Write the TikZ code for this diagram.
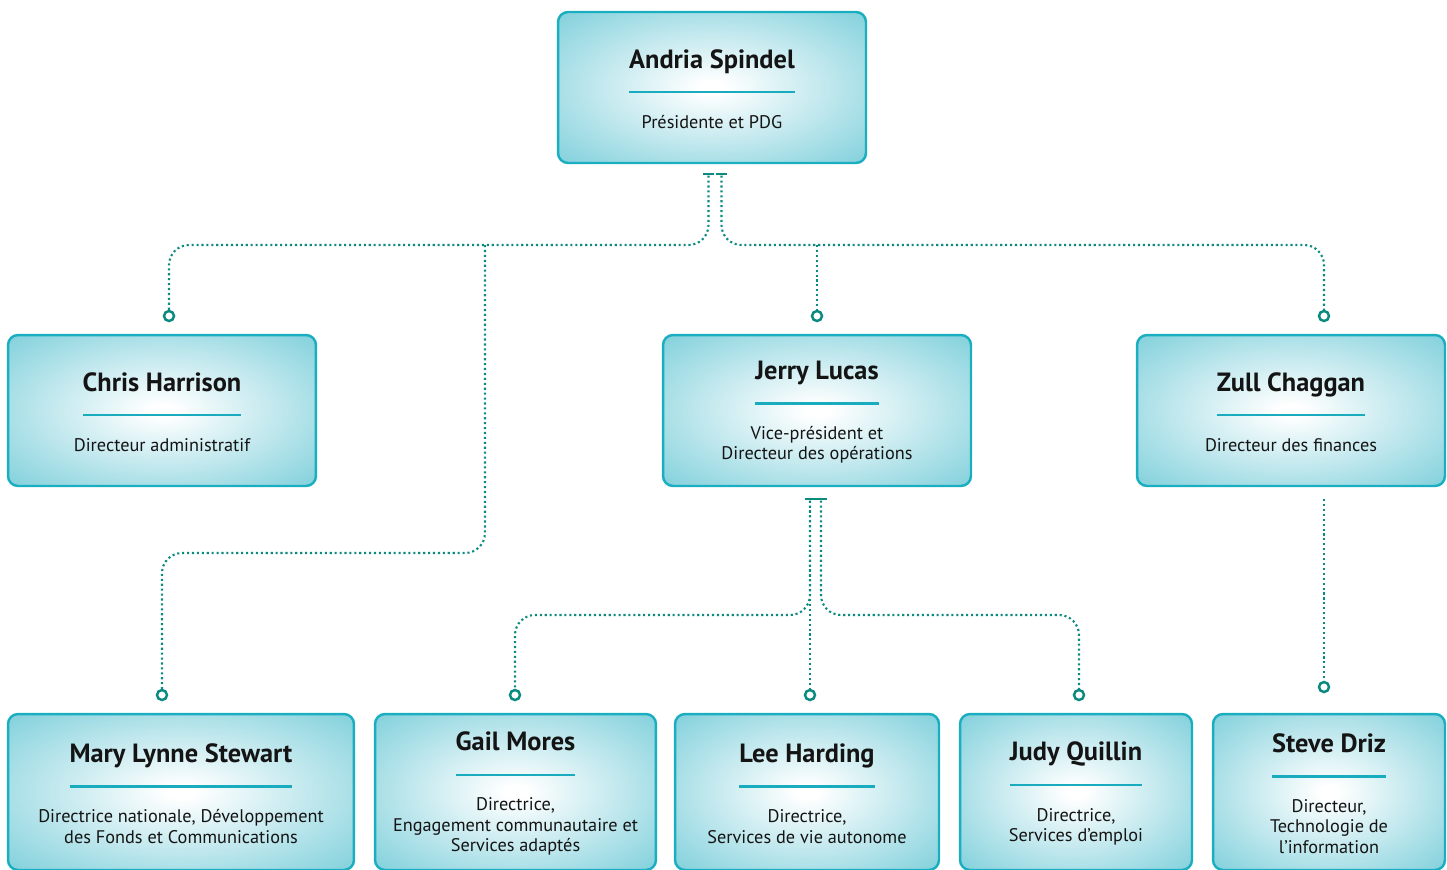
\documentclass[tikz,border=0pt]{standalone}
\usepackage{fontspec}
\setmainfont{PT Sans}
\usepackage{tikz}
\usetikzlibrary{positioning, calc}
\usepackage{xcolor}

\definecolor{cardedge}{HTML}{1AAEC0}
\definecolor{cardfill}{HTML}{78CDD9}
\definecolor{cardrule}{HTML}{19ACBE}
\definecolor{linkteal}{HTML}{0B8A80}
\definecolor{inktext}{HTML}{141414}

\pgfdeclareradialshading{cardglow}{\pgfpointorigin}{color(0bp)=(white); color(2bp)=(white); color(38bp)=(cardfill); color(50bp)=(cardfill)}

\newsavebox\namebox
\newcommand{\cardtext}[2]{%
  \global\setbox\namebox\hbox{\fontsize{15}{16}\selectfont\bfseries #1}%
  \rule{0pt}{12.5pt}\usebox\namebox\\[2.7pt]
  {\color{cardrule}\rule{\wd\namebox}{1.3pt}}\\[8.3pt]
  #2}

\begin{document}
\begin{tikzpicture}[
  x=0.02cm, y=-0.02cm,
  card/.style={rectangle, draw=cardedge, line width=1.4pt, rounded corners=0.2cm, shading=cardglow, minimum width=6.16cm, minimum height=3.02cm, align=center, text=inktext, font=\fontsize{10.4}{11.6}\selectfont, inner sep=0pt},
  lowcard/.style={card, minimum height=3.12cm},
  tapdot/.style={circle, draw=linkteal, fill=white, line width=1.4pt, minimum size=0.2cm, inner sep=0pt},
  stub/.style={rectangle, fill=linkteal, minimum width=0.22cm, minimum height=0.05cm, inner sep=0pt},
  link/.style={draw=linkteal, line width=1.2pt, dash pattern=on 1.2pt off 1.6pt, rounded corners=0.4cm}
]
  \useasboundingbox (0,0) rectangle (1447,869);
  \clip (0,0) rectangle (1447,869);

  % Top level
  \node[card] (andria) at (712,87.5) {\cardtext{Andria Spindel}{Présidente et PDG}};

  % Second row
  \node[card] (harrison) at (162,410.5) {\cardtext{Chris Harrison}{Directeur administratif}};
  \node[card] (lucas) at (817,410.5) {\cardtext{Jerry Lucas}{Vice-président et\\Directeur des opérations}};
  \node[card] (chaggan) at (1291,410.5) {\cardtext{Zull Chaggan}{Directeur des finances}};

  % Bottom row
  \node[lowcard, minimum width=6.92cm] (stewart) at (181,792) {\cardtext{Mary Lynne Stewart}{Directrice nationale, Développement\\des Fonds et Communications}};
  \node[lowcard, minimum width=5.62cm] (mores) at (515.5,792) {\cardtext{Gail Mores}{Directrice,\\Engagement communautaire et\\Services adaptés}};
  \node[lowcard, minimum width=5.28cm] (harding) at (807,792) {\cardtext{Lee Harding}{Directrice,\\Services de vie autonome}};
  \node[lowcard, minimum width=4.64cm] (quillin) at (1076,792) {\cardtext{Judy Quillin}{Directrice,\\Services d’emploi}};
  \node[lowcard, minimum width=4.64cm] (driz) at (1329,792) {\cardtext{Steve Driz}{Directeur,\\Technologie de\\l’information}};

  % Stubs under the cards
  \node[stub] (andriaL) at (708.5,174) {};
  \node[stub] (andriaR) at (721.5,174) {};
  \node[stub] (lucasL) at (810,499) {};
  \node[stub] (lucasR) at (821,499) {};
  \coordinate (chagganfoot) at (1324,499);

  % Entry dots
  \node[tapdot] (harrisonin) at (169,316) {};
  \node[tapdot] (lucasin) at (817,316) {};
  \node[tapdot] (chagganin) at (1324,316) {};
  \node[tapdot] (stewartin) at (162,695) {};
  \node[tapdot] (moresin) at (515,695) {};
  \node[tapdot] (hardingin) at (810,695) {};
  \node[tapdot] (quillinin) at (1079,695) {};
  \node[tapdot] (drizin) at (1324,687) {};

  % Buses
  \coordinate (topbus) at (0,245);
  \coordinate (midbus) at (0,553);
  \coordinate (lowbus) at (0,615);
  \coordinate (branch) at (485,245);

  % Connections
  \draw[link] (andriaL.south) |- (harrisonin |- topbus) -- (harrisonin.north);
  \draw[link] (andriaR.south) |- (chagganin |- topbus) -- (chagganin.north);
  \draw[link] (lucasin |- topbus) -- (lucasin.north);
  \draw[link] (branch) |- (stewartin |- midbus) -- (stewartin.north);
  \draw[link] (lucasL.south) |- (moresin |- lowbus) -- (moresin.north);
  \draw[link] (lucasL.south) -- (hardingin.north);
  \draw[link] (lucasR.south) |- (quillinin |- lowbus) -- (quillinin.north);
  \draw[link] (chagganfoot) -- (drizin.north);
\end{tikzpicture}
\end{document}
